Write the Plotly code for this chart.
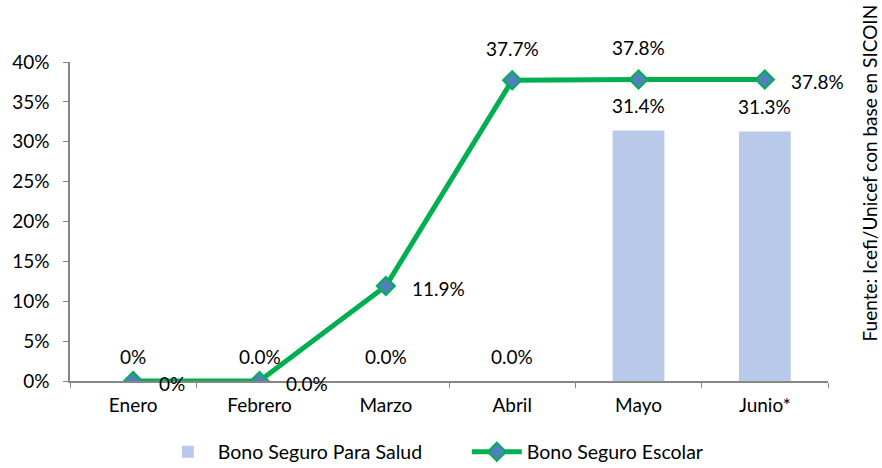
import plotly.graph_objects as go

meses = ['Enero', 'Febrero', 'Marzo', 'Abril', 'Mayo', 'Junio*']
salud = [0.0, 0.0, 0.0, 0.0, 0.314, 0.313]
escolar = [0.0, 0.0, 0.119, 0.377, 0.378, 0.378]
salud_txt = ['0%', '0.0%', '0.0%', '0.0%', '31.4%', '31.3%']
escolar_txt = ['0%', '0.0%', '11.9%', '37.7%', '37.8%', '37.8%']
fuente = 'Fuente: Icefi/Unicef con base en SICOIN'

FONT = 'Lato'
FS = 19
GRIS = '#868686'

fig = go.Figure()
fig.add_trace(go.Bar(
  x=meses, y=salud, name='Bono Seguro Para Salud',
  marker=dict(color='#b9c9ea', line=dict(width=0)),
  width=0.41))
fig.add_trace(go.Scatter(
  x=meses, y=escolar, name='Bono Seguro Escolar',
  mode='lines+markers',
  line=dict(color='#00b050', width=5),
  marker=dict(symbol='diamond', size=14, color='#4f81bd',
              line=dict(color='#00b050', width=2))))

# etiquetas de las barras
for m, v, t in zip(meses, salud, salud_txt):
  fig.add_annotation(x=m, y=v, text=t, showarrow=False, yshift=25,
                     font=dict(family=FONT, size=FS, color='#000'))

# etiquetas de la linea
pos = ['r', 'r', 'r', 't', 't', 'r']
for m, v, t, p in zip(meses, escolar, escolar_txt, pos):
  if p == 't':
    fig.add_annotation(x=m, y=v, text=t, showarrow=False, yshift=32,
                       font=dict(family=FONT, size=FS, color='#000'))
  else:
    fig.add_annotation(x=m, y=v, text=t, showarrow=False, xanchor='left',
                       xshift=24, yshift=-2,
                       font=dict(family=FONT, size=FS, color='#000'))

# fuente (vertical, borde derecho)
fig.add_annotation(xref='paper', yref='paper', x=1.0712, xanchor='right',
                   y=0.652, text=fuente, textangle=-90, showarrow=False,
                   borderpad=0,
                   font=dict(family=FONT, size=19, color='#000'))

fig.update_layout(
  width=882, height=468,
  margin=dict(l=70, r=54, t=62, b=87),
  plot_bgcolor='white', paper_bgcolor='white',
  font=dict(family=FONT, size=FS, color='#000'),
  showlegend=True,
  legend=dict(orientation='h', xref='paper', x=0.5235, xanchor='center',
              yref='container', y=0.034, yanchor='middle',
              font=dict(family=FONT, size=19.5), itemwidth=50,
              entrywidth=244, tracegroupgap=0),
  bargap=0.59,
  xaxis=dict(type='category', range=[-0.5, 5.5], showline=True, linecolor=GRIS,
             linewidth=1.5, ticks='outside', tickson='boundaries', ticklen=5,
             tickcolor=GRIS, showgrid=False, tickfont=dict(size=FS),
             ticklabelstandoff=6),
  yaxis=dict(range=[0, 0.40], dtick=0.05, tickformat='.0%', showline=True,
             linecolor=GRIS, linewidth=1.5, ticks='outside', ticklen=5,
             tickcolor=GRIS, showgrid=False, zeroline=False,
             tickfont=dict(size=FS), ticklabelstandoff=10))

fig.write_html('out.html', config={'displayModeBar': False},
               post_script="document.body.style.margin='0';document.body.style.overflow='hidden';")
